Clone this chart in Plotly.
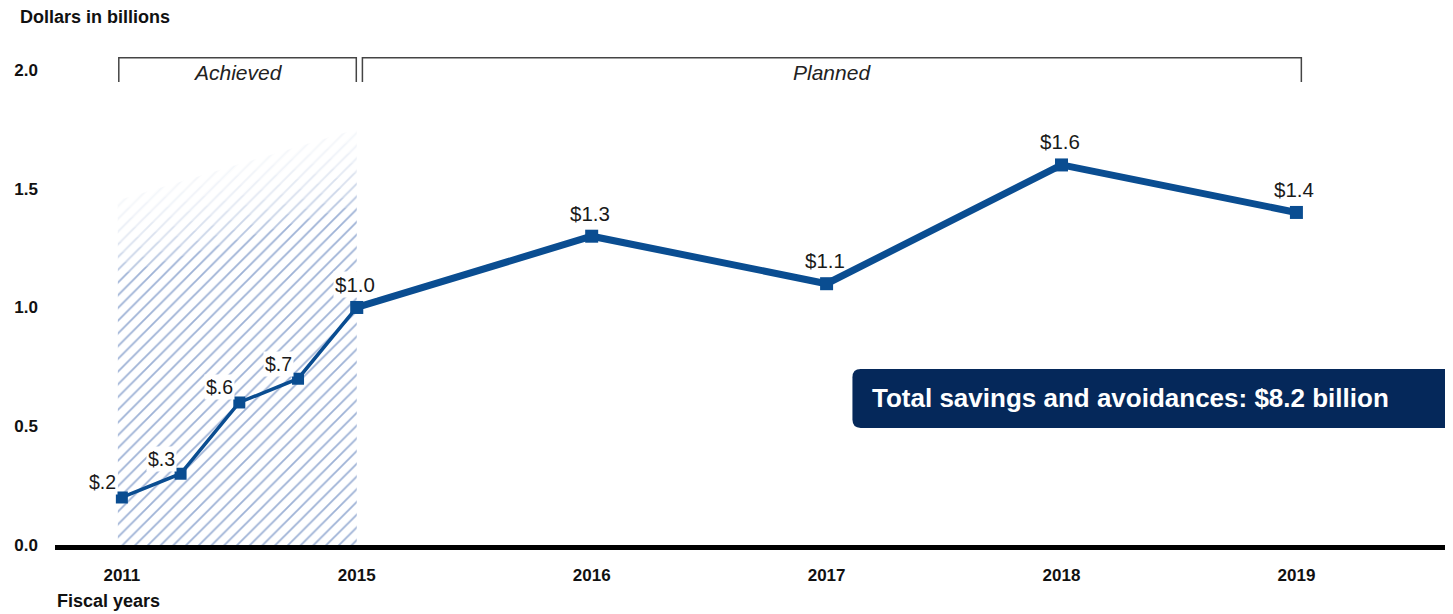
import plotly.graph_objects as go

# ---- data ----
years = [2011, 2012, 2013, 2014, 2015, 2016, 2017, 2018, 2019]
values = [0.2, 0.3, 0.6, 0.7, 1.0, 1.3, 1.1, 1.6, 1.4]
value_labels = ["$.2", "$.3", "$.6", "$.7", "$1.0", "$1.3", "$1.1", "$1.6", "$1.4"]
tick_years = [2011, 2015, 2016, 2017, 2018, 2019]
y_ticks = [0.0, 0.5, 1.0, 1.5, 2.0]
y_tick_labels = ["0.0", "0.5", "1.0", "1.5", "2.0"]
total_text = "Total savings and avoidances: $8.2 billion"


def xpos(y):
    # achieved years (2011-2015) are compressed into one interval
    return (y - 2011) / 4 if y <= 2015 else y - 2014


FONT = "Liberation Sans, Arial, sans-serif"
BLUE = "#0a4d91"
NAVY = "#05285a"

xs = [xpos(y) for y in years]
ach_idx = [i for i, y in enumerate(years) if y <= 2015]
plan_idx = [i for i, y in enumerate(years) if y >= 2015]

fig = go.Figure()

# hatched "achieved" area
hx0, hx1 = -0.017, xpos(2015)
top_l, top_r = 1.45, 1.75
fig.add_trace(go.Scatter(
    x=[hx0, hx1, hx1, hx0, hx0], y=[0, 0, top_r, top_l, 0],
    mode="none", fill="toself", fillcolor="rgba(0,0,0,0)",
    fillpattern=dict(shape="/", fgcolor="#3d65ad", bgcolor="white", size=9, solidity=0.2),
    hoverinfo="skip", showlegend=False))
# fading overlays at top
n, h = 7, 0.045
for k in range(n):
    d = (k + 1) * h
    fig.add_trace(go.Scatter(
        x=[hx0 - 0.005, hx1 + 0.005, hx1 + 0.005, hx0 - 0.005, hx0 - 0.005],
        y=[top_l + 0.02, top_r + 0.02, top_r - d, top_l - d, top_l + 0.02],
        mode="none", fill="toself", fillcolor="rgba(255,255,255,0.28)",
        hoverinfo="skip", showlegend=False))

# achieved line (thin)
fig.add_trace(go.Scatter(
    x=[xs[i] for i in ach_idx], y=[values[i] for i in ach_idx],
    mode="lines+markers",
    line=dict(color=BLUE, width=3.5),
    marker=dict(symbol="square", size=12, color=BLUE),
    hoverinfo="skip", showlegend=False, cliponaxis=False))

# planned line (thick)
fig.add_trace(go.Scatter(
    x=[xs[i] for i in plan_idx], y=[values[i] for i in plan_idx],
    mode="lines+markers",
    line=dict(color=BLUE, width=7),
    marker=dict(symbol="square", size=13, color=BLUE),
    hoverinfo="skip", showlegend=False, cliponaxis=False))

shapes = []
# brackets
by_top, by_bot = 2.051, 1.949
for x0, x1 in [(-0.013, 0.998), (1.024, 5.021)]:
    shapes.append(dict(type="path", xref="x", yref="y",
                       path=f"M {x0},{by_bot} L {x0},{by_top} L {x1},{by_top} L {x1},{by_bot}",
                       line=dict(color="#444444", width=1.5)))

# rounded navy box
bx0, bx1, by0, by1 = 3.11, 5.70, 0.493, 0.741
rx, ry = 0.035, 0.035
shapes.append(dict(type="path", xref="x", yref="y", layer="above",
                   path=(f"M {bx0+rx},{by0} L {bx1},{by0} L {bx1},{by1} L {bx0+rx},{by1} "
                         f"Q {bx0},{by1} {bx0},{by1-ry} L {bx0},{by0+ry} Q {bx0},{by0} {bx0+rx},{by0} Z"),
                   fillcolor=NAVY, line=dict(width=0)))

annotations = [
    dict(text="<b>Dollars in billions</b>", xref="paper", yref="paper", x=-0.0265, y=1.0,
         xanchor="left", yanchor="middle", yshift=23, showarrow=False,
         font=dict(family=FONT, size=18, color="#111111")),
    dict(text="<b>Fiscal years</b>", xref="paper", yref="paper", x=0.0, y=0.0,
         xanchor="left", yanchor="middle", yshift=-56, showarrow=False,
         font=dict(family=FONT, size=18, color="#111111")),
    dict(text="<i>Achieved</i>", xref="x", yref="y", x=(-0.013 + 0.998) / 2, y=1.99,
         showarrow=False, font=dict(family=FONT, size=21, color="#222222")),
    dict(text="<i>Planned</i>", xref="x", yref="y", x=(1.024 + 5.021) / 2, y=1.99,
         showarrow=False, font=dict(family=FONT, size=21, color="#222222")),
    dict(text=f"<b>{total_text}</b>", xref="x", yref="y", x=bx0, xshift=18,
         y=(by0 + by1) / 2, xanchor="left", yanchor="middle", showarrow=False,
         font=dict(family=FONT, size=26, color="white")),
]

# value labels
for i, (x, v, lab) in enumerate(zip(xs, values, value_labels)):
    if years[i] < 2015:
        annotations.append(dict(
            text=lab, x=x, y=v, xref="x", yref="y", xanchor="right", yanchor="middle",
            xshift=-4, yshift=15, showarrow=False, bgcolor="white", borderpad=1,
            font=dict(family=FONT, size=19.5, color="#1a1a1a")))
    else:
        annotations.append(dict(
            text=lab, x=x, y=v, xref="x", yref="y", xanchor="center", yanchor="middle",
            xshift=-2, yshift=23, showarrow=False,
            bgcolor="white" if years[i] == 2015 else "rgba(0,0,0,0)", borderpad=1,
            font=dict(family=FONT, size=20.5, color="#1a1a1a")))

fig.update_layout(
    width=1445, height=606,
    margin=dict(l=44, r=6, t=32, b=69),
    paper_bgcolor="white", plot_bgcolor="white",
    shapes=shapes, annotations=annotations,
    xaxis=dict(range=[-0.2846, 5.641], tickmode="array",
               tickvals=[xpos(y) for y in tick_years],
               ticktext=[str(y) for y in tick_years],
               tickfont=dict(family=FONT, size=17, color="#111111", weight="bold"),
               showgrid=False, zeroline=False, showline=True, linecolor="black",
               linewidth=5, ticks="", ticklabelstandoff=11, fixedrange=True),
    yaxis=dict(range=[0, 2.126], tickmode="array", tickvals=y_ticks, ticktext=y_tick_labels,
               tickfont=dict(family=FONT, size=17, color="#111111", weight="bold"),
               showgrid=False, zeroline=False, showline=False, ticks="",
               ticklabelstandoff=16, fixedrange=True),
)

fig.write_html("out.html")
